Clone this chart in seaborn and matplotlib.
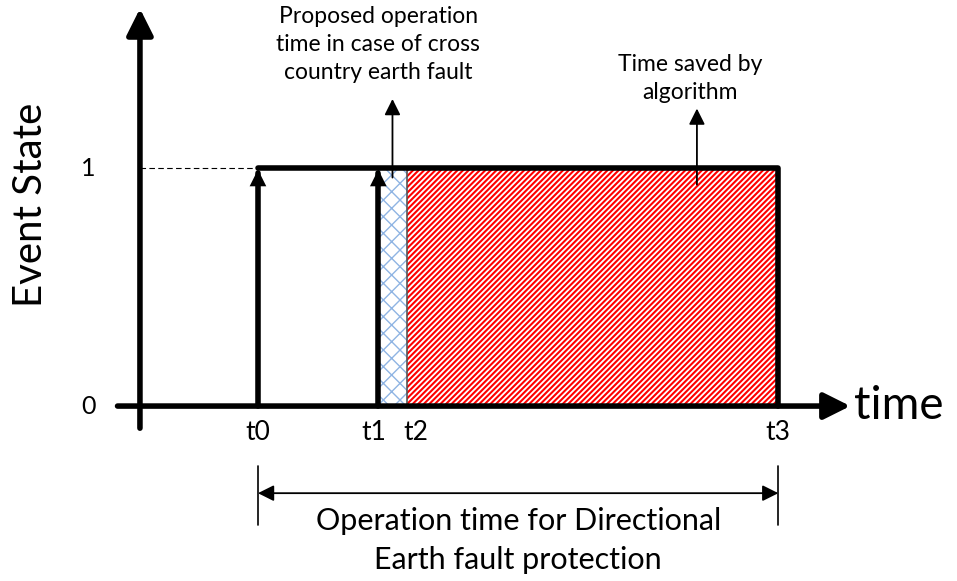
import numpy as np
import pandas as pd
import seaborn as sns
from matplotlib import pyplot as plt
from matplotlib.patches import Rectangle

# event times (arbitrary time units) and state levels
events = ["t0", "t1", "t2", "t3"]
event_times = [1.0, 2.02, 2.26, 5.41]
state_levels = [0, 1]
state_labels = ["0", "1"]

sns.set_theme(style="white")
plt.rcParams['font.family'] = ['Lato', 'DejaVu Sans']
plt.rcParams['text.color'] = 'black'

fig = plt.figure(figsize=(9.57, 5.81), dpi=100)
ax = fig.add_axes([0, 0, 1, 1])
ax.set_xlim(-1.186, 6.924)
ax.set_ylim(-0.735, 1.706)
ax.axis('off')

t0, t1, t2, t3 = event_times
lo, hi = state_levels

# shaded regions
plt.rcParams['hatch.linewidth'] = 1.0
ax.add_patch(Rectangle((t1, lo), t2 - t1, hi - lo, facecolor='white',
                       edgecolor='#8fb4e3', hatch='xx', linewidth=0, zorder=1))
plt.rcParams['hatch.linewidth'] = 1.5
ax.add_patch(Rectangle((t2, lo), t3 - t2, hi - lo, facecolor='white',
                       edgecolor='#ff0000', hatch='//////', linewidth=0, zorder=1))
ax.plot([t2, t2], [lo, hi], color='#555555', lw=1.2, zorder=2)

# pulse outline
pulse = pd.DataFrame({'x': [t0, t3, t3], 'y': [hi, hi, lo]})
sns.lineplot(data=pulse, x='x', y='y', sort=False, estimator=None,
             color='black', lw=4, ax=ax, zorder=4)
ax.plot([t1, t1], [lo, hi - 0.02], color='black', lw=4, zorder=4)
ax.plot([t0, t0], [lo, hi - 0.02], color='black', lw=4, zorder=4)
for t in (t0, t1):
    ax.annotate('', xy=(t, hi + 0.005), xytext=(t, hi - 0.1),
                arrowprops=dict(arrowstyle='-|>', color='black', lw=0,
                                mutation_scale=30), zorder=5)

# dashed guide at level 1
ax.plot([0, t0], [hi, hi], color='black', lw=0.8, ls=(0, (5, 3)), zorder=3)

# axes with arrows
ax.annotate('', xy=(0, 1.67), xytext=(0, -0.093),
            arrowprops=dict(arrowstyle='-|>', color='black', lw=4,
                            mutation_scale=40, shrinkA=0, shrinkB=0), zorder=6)
ax.annotate('', xy=(6.02, lo), xytext=(-0.19, lo),
            arrowprops=dict(arrowstyle='-|>', color='black', lw=4,
                            mutation_scale=40, shrinkA=0, shrinkB=0), zorder=6)

ax.text(6.05, lo, 'time', fontsize=33, va='center', ha='left')
ax.text(-0.925, 0.845, 'Event State', fontsize=29, rotation=90,
        va='center', ha='center')
for lv, lab in zip(state_levels, state_labels):
    ax.text(-0.44, lv, lab, fontsize=18, va='center', ha='center')
for t, lab in zip(event_times, events):
    dx = {'t1': -0.04, 't2': 0.08}.get(lab, 0)
    ax.text(t + dx, -0.11, lab, fontsize=19, va='center', ha='center')

# callouts
ax.annotate('', xy=(2.14, 1.29), xytext=(2.14, 0.96),
            arrowprops=dict(arrowstyle='-|>', color='black', lw=1.3,
                            mutation_scale=24, shrinkA=0, shrinkB=0), zorder=6)
ax.text(2.02, 1.52, 'Proposed operation\ntime in case of cross\ncountry earth fault',
        fontsize=16.5, ha='center', va='center', linespacing=1.4)
ax.annotate('', xy=(4.72, 1.25), xytext=(4.72, 0.93),
            arrowprops=dict(arrowstyle='-|>', color='black', lw=1.3,
                            mutation_scale=24, shrinkA=0, shrinkB=0), zorder=6)
ax.text(4.66, 1.375, 'Time saved by\nalgorithm', fontsize=16.5,
        ha='center', va='center', linespacing=1.4)

# operation time span
ax.plot([t0, t0], [-0.25, -0.5], color='black', lw=1.2)
ax.plot([t3, t3], [-0.25, -0.5], color='black', lw=1.2)
ax.annotate('', xy=(t0, -0.366), xytext=(t3, -0.366),
            arrowprops=dict(arrowstyle='<|-|>', color='black', lw=1.3,
                            mutation_scale=24, shrinkA=0, shrinkB=0))
ax.text((t0 + t3) / 2, -0.565, 'Operation time for Directional\nEarth fault protection',
        fontsize=22, ha='center', va='center', linespacing=1.45)

fig.savefig('out.png', dpi=100)
